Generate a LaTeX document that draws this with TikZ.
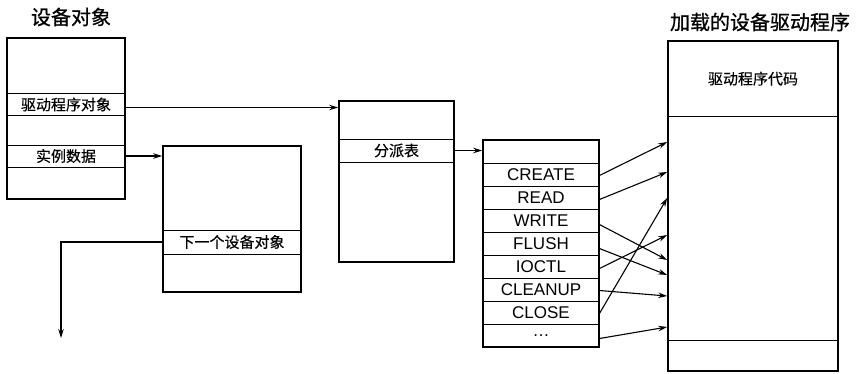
\documentclass[tikz,border=0pt]{standalone}
\usepackage{fontspec}
\setmainfont{Liberation Sans}
\newfontfamily\cjk{Noto Sans CJK SC}[FakeBold=0.3]
\newfontfamily\cjkhead{Noto Sans CJK SC}[FakeBold=0.8]
\usepackage{tikz}
\usetikzlibrary{arrows.meta,positioning,calc}
\tikzset{
  obj/.style={draw, line width=1.6pt, inner sep=0pt, minimum width=#1},
  cell/.style={draw, line width=0.9pt, inner sep=0pt, minimum width=#1, minimum height=22pt,
    font=\cjk\fontsize{15}{18}\selectfont},
  ttl/.style={font=\cjkhead\fontsize{20}{24}\selectfont},
}

\begin{document}
\begin{tikzpicture}[x=1pt, y=-1pt,
  op/.style={cell=116pt, minimum height=23pt, font=\fontsize{17}{20}\selectfont},
  link/.style={->, line width=1.1pt},
  >={Stealth[length=9pt, width=5.5pt]}]
\useasboundingbox (0,0) rectangle (858,373);
\node[ttl] (devtitle) at (71,17) {设备对象};
\node[obj=118pt, minimum height=161pt] (devobj) at (66,118.5) {};
\node[cell=118pt] (rdrv) at (66,104.5) {驱动程序对象};
\node[cell=118pt] (rinst) at (66,156) {实例数据};
\node[obj=138pt, minimum height=146pt] (nextobj) at (232,219) {};
\node[cell=138pt, minimum height=24pt] (rnext) at (232,242) {下一个设备对象};
\node[obj=115pt, minimum height=161pt] (drvobj) at (396.5,181.5) {};
\node[cell=115pt, minimum height=23pt] (rdisp) at (396.5,150.5) {分派表};
\node[obj=116pt, minimum height=207pt] (disp) at (541,243.5) {};
\foreach \op [count=\i] in {{},CREATE,READ,WRITE,FLUSH,IOCTL,CLEANUP,CLOSE,{\ldots}}
  \node[op] (op\i) at (541,128.5+23*\i) {\op};
\node[ttl] (drvtitle) at (760,22) {加载的设备驱动程序};
\node[obj=170pt, minimum height=330pt] (drv) at (753,206) {};
\node[cell=170pt, minimum height=76pt, anchor=north] (code) at (drv.north) {驱动程序代码};
\node[cell=170pt, minimum height=31pt, anchor=south] (tail) at (drv.south) {};
\draw[link] ([yshift=-3pt]rdrv.east) -- ([yshift=-3pt]rdrv.east -| drvobj.west);
\draw[link] (rinst.east) -- (rinst.east -| nextobj.west);
\coordinate (nextend) at (61,338);
\draw[link] (rnext.west) -| (nextend);
\draw[link] (rdisp.east) -- (rdisp.east -| disp.west);
\foreach \k/\ty in {a/142,b/172,c/198,d/235,e/260,f/275,g/296,h/327}
  \coordinate (in\k) at (drv.west |- 0,\ty);
\foreach \i/\dy/\k in {2/-1/a,3/-2/b,4/-4/e,5/-5/f,6/-2/d,7/-1/g,8/-1/c,9/-3/h}
  \draw[link] ([yshift=\dy pt]op\i.east) -- (in\k);
\end{tikzpicture}
\end{document}
